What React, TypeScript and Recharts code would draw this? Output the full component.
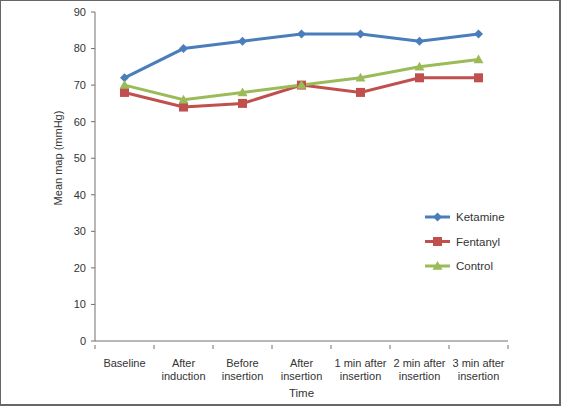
import { LineChart, Line, XAxis, YAxis, Label } from 'recharts';

const categories = [
  'Baseline',
  'After\ninduction',
  'Before\ninsertion',
  'After\ninsertion',
  '1 min after\ninsertion',
  '2 min after\ninsertion',
  '3 min after\ninsertion',
];
const ketamine = [72, 80, 82, 84, 84, 82, 84];
const fentanyl = [68, 64, 65, 70, 68, 72, 72];
const control = [70, 66, 68, 70, 72, 75, 77];
const yTicks = [0, 10, 20, 30, 40, 50, 60, 70, 80, 90];

const BLUE = '#4a7ebb';
const RED = '#c0504d';
const GREEN = '#9bbb59';
const AXIS = '#707070';
const TEXT = '#333333';
const FONT = '"Liberation Sans", Arial, sans-serif';

const PLOT_LEFT = 95;
const PLOT_RIGHT = 508;
const BAND = (PLOT_RIGHT - PLOT_LEFT) / categories.length;

const data = categories.map((time, i) => ({
  time,
  ketamine: ketamine[i],
  fentanyl: fentanyl[i],
  control: control[i],
}));

const series = [
  { key: 'ketamine', name: 'Ketamine', color: BLUE, shape: 'diamond' },
  { key: 'fentanyl', name: 'Fentanyl', color: RED, shape: 'square' },
  { key: 'control', name: 'Control', color: GREEN, shape: 'triangle' },
];

function Marker({ cx, cy, shape, color }: { cx: number; cy: number; shape: string; color: string }) {
  if (shape === 'diamond') {
    const r = 4.5;
    return <path d={`M${cx},${cy - r}L${cx + r},${cy}L${cx},${cy + r}L${cx - r},${cy}Z`} fill={color} />;
  }
  if (shape === 'square') {
    const r = 4.5;
    return <rect x={cx - r} y={cy - r} width={r * 2} height={r * 2} fill={color} />;
  }
  const r = 5;
  return <path d={`M${cx},${cy - r}L${cx + r},${cy + r * 0.75}L${cx - r},${cy + r * 0.75}Z`} fill={color} />;
}

// category labels, plus tick marks on the band boundaries
function CatTick(props: any) {
  const { x, y, payload, index } = props;
  const lines = String(payload.value).split('\n');
  const axisY = y - 2;
  const last = index === categories.length - 1;
  return (
    <g>
      <line x1={x - BAND / 2} x2={x - BAND / 2} y1={axisY} y2={axisY + 4} stroke={AXIS} />
      {last && <line x1={x + BAND / 2} x2={x + BAND / 2} y1={axisY} y2={axisY + 4} stroke={AXIS} />}
      <text x={x} y={axisY} textAnchor="middle" fontSize={11} fill={TEXT} fontFamily={FONT}>
        {lines.map((l, i) => (
          <tspan key={i} x={x} dy={i === 0 ? 22 : 13}>
            {l}
          </tspan>
        ))}
      </text>
    </g>
  );
}

function LegendBox() {
  return (
    <g>
      {series.map((s, i) => {
        const y = 217 + i * 24.5;
        return (
          <g key={s.key}>
            <line x1={425} x2={450} y1={y} y2={y} stroke={s.color} strokeWidth={3} />
            <Marker cx={437.5} cy={y} shape={s.shape} color={s.color} />
            <text x={456} y={y + 4} fontSize={11.5} fill={TEXT} fontFamily={FONT}>
              {s.name}
            </text>
          </g>
        );
      })}
    </g>
  );
}

export default function App() {
  return (
    <div style={{ position: 'absolute', left: 0, top: 0, width: 562, height: 407, background: '#fff' }}>
      <LineChart width={562} height={407} data={data} margin={{ top: 12, right: 562 - PLOT_RIGHT, bottom: 0, left: 0 }}>
        <XAxis
          dataKey="time"
          scale="band"
          height={66}
          axisLine={{ stroke: AXIS }}
          tickLine={false}
          tickMargin={0}
          interval={0}
          tick={<CatTick />}
        >
          <Label
            content={({ viewBox }: any) => (
              <text
                x={viewBox.x + viewBox.width / 2}
                y={397}
                textAnchor="middle"
                fontSize={11.5}
                fill={TEXT}
                fontFamily={FONT}
              >
                Time
              </text>
            )}
          />
        </XAxis>
        <YAxis
          domain={[0, 90]}
          ticks={yTicks}
          width={PLOT_LEFT}
          tickSize={4}
          tickMargin={5}
          axisLine={{ stroke: AXIS }}
          tickLine={{ stroke: AXIS }}
          tick={{ fill: TEXT, fontSize: 11, fontFamily: FONT }}
        >
          <Label
            content={() => (
              <text
                transform="translate(62,158) rotate(-90)"
                textAnchor="middle"
                fontSize={11}
                fill={TEXT}
                fontFamily={FONT}
              >
                Mean map (mmHg)
              </text>
            )}
          />
        </YAxis>
        {series.map((s) => (
          <Line
            key={s.key}
            dataKey={s.key}
            name={s.name}
            stroke={s.color}
            strokeWidth={3}
            isAnimationActive={false}
            dot={(p: any) => <Marker key={`${s.key}-${p.index}`} cx={p.cx} cy={p.cy} shape={s.shape} color={s.color} />}
            activeDot={false}
          />
        ))}
        <LegendBox />
      </LineChart>
      <div
        style={{
          position: 'absolute',
          left: 0,
          top: 0,
          width: 561,
          height: 406,
          boxSizing: 'border-box',
          borderTop: '1px solid #666',
          borderLeft: '1px solid #666',
          borderRight: '2px solid #666',
          borderBottom: '2px solid #666',
          pointerEvents: 'none',
        }}
      />
    </div>
  );
}
